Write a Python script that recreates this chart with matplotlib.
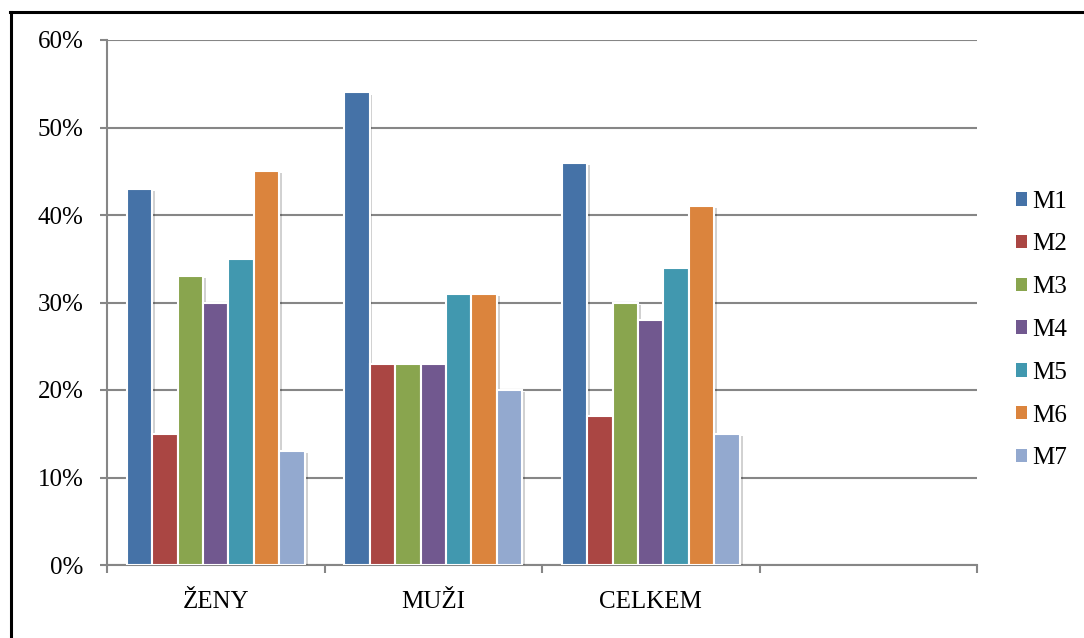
import matplotlib
matplotlib.use("Agg")
import matplotlib.pyplot as plt
import matplotlib.patheffects as pe
from matplotlib.lines import Line2D
import numpy as np

FONT = "Liberation Serif"
plt.rcParams['font.family'] = [FONT, 'DejaVu Serif']
plt.rcParams['font.serif'] = [FONT]

categories = ["ŽENY", "MUŽI", "CELKEM", ""]
series_names = ["M1", "M2", "M3", "M4", "M5", "M6", "M7"]
values = {
    "M1": [43, 54, 46],
    "M2": [15, 23, 17],
    "M3": [33, 23, 30],
    "M4": [30, 23, 28],
    "M5": [35, 31, 34],
    "M6": [45, 31, 41],
    "M7": [13, 20, 15],
}
colors = ["#4572A7", "#AA4643", "#89A54E", "#71588F", "#4198AF", "#DB843D", "#93A9CF"]
yticks = [0, 10, 20, 30, 40, 50, 60]

fig = plt.figure(figsize=(10.84, 6.38), dpi=100)
ax = fig.add_axes([107/1084, 1-565/638, (977-107)/1084, (565-40)/638])

ncat = len(categories)
group_w = 0.82
bw = group_w / len(series_names)
x = np.arange(ncat)
grid_c = "#868686"

for i, name in enumerate(series_names):
    vals = values[name]
    xs = np.arange(len(vals)) - group_w/2 + bw*(i+0.5)
    bars = ax.bar(xs, np.array(vals)/100.0, width=bw, color=colors[i],
                  edgecolor="white", linewidth=1.5, zorder=3, label=name)
    for b in bars:
        b.set_path_effects([pe.SimplePatchShadow(offset=(2, -1.5), shadow_rgbFace="#000000", alpha=0.18),
                            pe.Normal()])

ax.set_xlim(-0.5, ncat-0.5)
ax.set_ylim(0, 0.6)
ax.set_yticks([v/100 for v in yticks])
ax.set_yticklabels([f"{v}%" for v in yticks], fontsize=18, family=FONT)
ax.yaxis.grid(True, color=grid_c, linewidth=1.5, zorder=0)
ax.set_axisbelow(True)

ax.set_xticks(x)
ax.set_xticklabels(categories, fontsize=18, family=FONT)
ax.tick_params(axis='x', which='major', length=0, pad=19)
ax.set_xticks(np.arange(ncat+1) - 0.5, minor=True)
ax.tick_params(axis='x', which='minor', length=6, width=1.5, color=grid_c, direction='out')
ax.tick_params(axis='y', length=5, width=1.5, color=grid_c, pad=12)

for s in ["top", "right"]:
    ax.spines[s].set_visible(False)
for s in ["left", "bottom"]:
    ax.spines[s].set_color(grid_c)
    ax.spines[s].set_linewidth(1.5)

handles, labels = ax.get_legend_handles_labels()
leg = fig.legend(handles, labels, loc="center left", bbox_to_anchor=(1016/1084, 1-330/638),
                 frameon=False, prop={"family": FONT, "size": 18}, handlelength=0.45, handleheight=0.45,
                 handletextpad=0.2, labelspacing=0.83, borderpad=0, borderaxespad=0)
for h in leg.legend_handles:
    h.set_path_effects([])
    h.set_edgecolor("none")

# outer frame (top and left edges)
fig.add_artist(Line2D([10/1084, 1.0], [1-12/638, 1-12/638], transform=fig.transFigure,
                      color="black", linewidth=2.2))
fig.add_artist(Line2D([11/1084, 11/1084], [0.0, 1-12/638], transform=fig.transFigure,
                      color="black", linewidth=2.2))

fig.savefig("out.png", dpi=100)
